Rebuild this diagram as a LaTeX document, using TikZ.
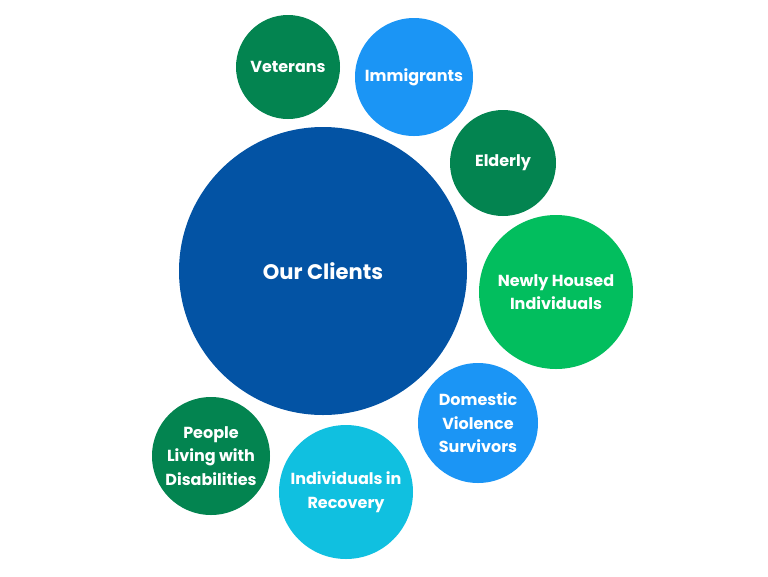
\documentclass[tikz,border=0pt]{standalone}
\usepackage{fontspec}
\setmainfont{Poppins}
\definecolor{clientblue}{HTML}{0353A4}
\definecolor{darkgreen}{HTML}{038450}
\definecolor{skyblue}{HTML}{1B95F5}
\definecolor{lightgreen}{HTML}{02BE5E}
\definecolor{cyanblue}{HTML}{10C0E0}
\tikzset{
  bubble/.style={circle,inner sep=0pt,text=white,align=center,
    font=\fontsize{12}{17.6}\selectfont\bfseries}
}
\begin{document}
\begin{tikzpicture}[x=0.75pt,y=-0.75pt]
 \useasboundingbox (0,0) rectangle (768,576);
 % centre
 \node[bubble,fill=clientblue,minimum size=216pt,font=\fontsize{15.8}{19}\selectfont\bfseries] (clients) at (323,271) {Our Clients};
 % groups round it
 \node[bubble,fill=darkgreen,minimum size=78pt] (veterans) at (288,67) {Veterans};
 \node[bubble,fill=skyblue,minimum size=88.5pt] (immigrants) at (414,77) {Immigrants};
 \node[bubble,fill=darkgreen,minimum size=79.5pt] (elderly) at (503,163) {Elderly};
 \node[bubble,fill=lightgreen,minimum size=115.5pt] (housed) at (556,292) {Newly Housed\\Individuals};
 \node[bubble,fill=skyblue,minimum size=90pt] (survivors) at (478,423) {Domestic\\Violence\\Survivors};
 \node[bubble,fill=darkgreen,minimum size=88.5pt] (disabilities) at (211,456) {People\\Living with\\Disabilities};
 \node[bubble,fill=cyanblue,minimum size=100.5pt] (recovery) at (346,492) {Individuals in\\Recovery};
\end{tikzpicture}
\end{document}
